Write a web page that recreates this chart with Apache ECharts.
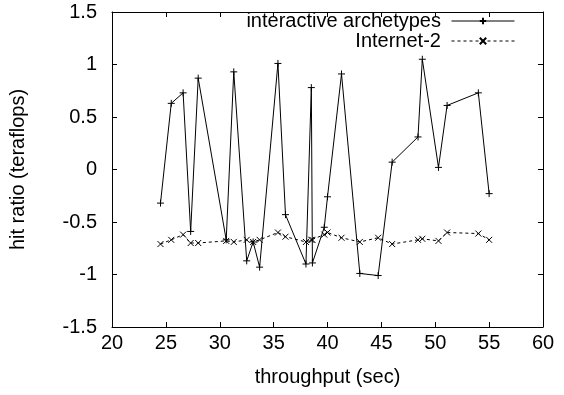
<!DOCTYPE html>
<html>
<head>
<meta charset="utf-8">
<script src="https://cdn.jsdelivr.net/npm/echarts@6/dist/echarts.min.js"></script>
<style>
  html, body { margin: 0; padding: 0; background: #fff; }
  #chart { width: 564px; height: 395px; }
</style>
</head>
<body>
<div id="chart"></div>
<script>
// throughput (sec), shared by both series
const throughput = [24.5, 25.5, 26.6, 27.3, 28.0, 30.6, 31.3, 32.5, 33.1, 33.7, 35.4, 36.1, 38.0, 38.5, 38.6,
  39.7, 40.0, 41.3, 43.0, 44.7, 46.0, 48.4, 48.8, 50.3, 51.1, 54.0, 55.0];
const archetypes = [-0.32, 0.63, 0.73, -0.59, 0.87, -0.67, 0.93, -0.87, -0.69, -0.93, 1.01, -0.43, -0.90, 0.78, -0.89,
  -0.55, -0.26, 0.91, -0.99, -1.01, 0.07, 0.31, 1.05, 0.02, 0.61, 0.73, -0.23];
const internet2 = [-0.71, -0.67, -0.62, -0.70, -0.70, -0.68, -0.69, -0.67, -0.69, -0.67, -0.60, -0.64, -0.69, -0.67, -0.67,
  -0.62, -0.60, -0.65, -0.69, -0.65, -0.71, -0.67, -0.66, -0.68, -0.60, -0.61, -0.67];

const FONT = "Liberation Sans, Arial, Helvetica, sans-serif";
const PLUS = "path://M0,4H8M4,0V8";
const CROSS = "path://M0,0L8,8M8,0L0,8";

const zip = (xs, ys) => xs.map((x, i) => [x, ys[i]]);

// 四边都有向内的刻度（gnuplot风格）
const tickAxis = (extra) => ({
  axisLine: { show: true, onZero: false, lineStyle: { color: "#000", width: 1 } },
  axisTick: { show: true, inside: true, length: 5, lineStyle: { color: "#000" } },
  splitLine: { show: false },
  ...extra,
});

const chart = echarts.init(document.getElementById("chart"));
chart.setOption({
  animation: false,
  backgroundColor: "#fff",
  textStyle: { fontFamily: FONT },
  grid: { left: 108, right: 21, top: 12, bottom: 68, containLabel: false },
  legend: {
    orient: "vertical",
    align: "right",
    right: 49,
    top: 11,
    padding: 0,
    itemWidth: 63,
    itemHeight: 8,
    itemGap: 0,
    lineStyle: { width: 1 },
    formatter: (name) => name + " ", // 文字与图例线之间留点空隙
    textStyle: { fontSize: 20, lineHeight: 19, color: "#000", fontFamily: FONT },
    data: ["interactive archetypes", "Internet-2"],
  },
  xAxis: [
    tickAxis({
      type: "value", min: 20, max: 60, interval: 5,
      name: "throughput (sec)", nameLocation: "middle", nameGap: 40,
      nameTextStyle: { fontSize: 20, color: "#000", fontFamily: FONT },
      axisLabel: { fontSize: 20, color: "#000", margin: 6, fontFamily: FONT },
    }),
    tickAxis({ type: "value", position: "top", min: 20, max: 60, interval: 5, axisLabel: { show: false } }),
  ],
  yAxis: [
    tickAxis({
      type: "value", min: -1.5, max: 1.5, interval: 0.5,
      name: "hit ratio (teraflops)", nameLocation: "middle", nameGap: 84,
      nameTextStyle: { fontSize: 20, color: "#000", fontFamily: FONT },
      axisLabel: { fontSize: 20, color: "#000", margin: 15, fontFamily: FONT },
    }),
    tickAxis({ type: "value", position: "right", min: -1.5, max: 1.5, interval: 0.5, axisLabel: { show: false } }),
  ],
  series: [
    {
      name: "interactive archetypes",
      type: "line",
      data: zip(throughput, archetypes),
      symbol: PLUS,
      symbolSize: 7,
      color: "#000",
      itemStyle: { color: "#000", borderColor: "#000", borderWidth: 1 },
      lineStyle: { color: "#000", width: 1, type: "solid" },
    },
    {
      name: "Internet-2",
      type: "line",
      data: zip(throughput, internet2),
      symbol: CROSS,
      symbolSize: 6,
      color: "#000",
      itemStyle: { color: "#000", borderColor: "#000", borderWidth: 1 },
      lineStyle: { color: "#000", width: 1, type: [3, 3] },
    },
  ],
});
</script>
</body>
</html>
